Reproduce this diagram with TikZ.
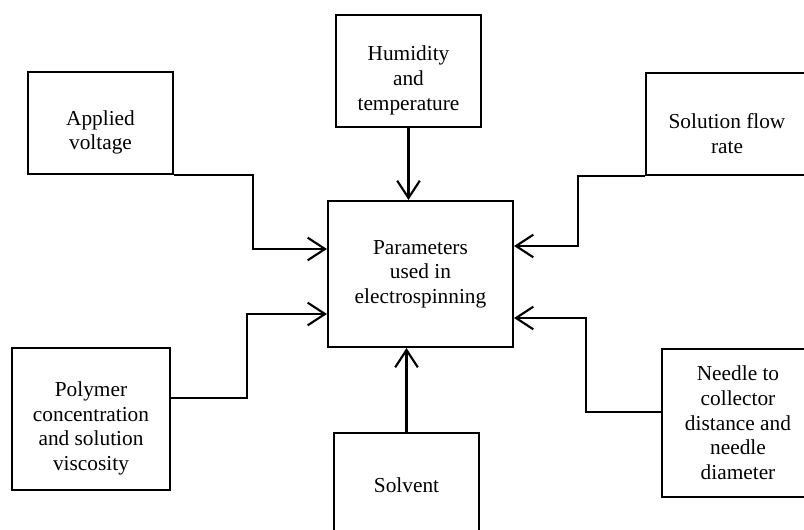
\documentclass[tikz,border=0pt]{standalone}
\usepackage{fontspec}
\setmainfont{Liberation Serif}
\usetikzlibrary{arrows.meta}

\begin{document}
\begin{tikzpicture}[x=0.75pt,y=-0.75pt,
    box/.style={draw=black,line width=1.6pt,inner sep=0pt},
    txt/.style={align=center,font=\fontsize{16}{18.5}\selectfont,text=black},
    arr/.style={line width=1.6pt,-{Straight Barb[length=13pt,width=17pt]}}]

      \clip (0,0) rectangle (804,530);

      \node[box,txt,minimum width=138.75pt,minimum height=109.5pt] (param) at (420.5,274){Parameters\\used in\\electrospinning};

      \node[box,minimum width=108.75pt,minimum height=76.5pt,label={[txt,name=voltlbl,yshift=-7pt]center:{Applied\\voltage}}] (volt) at (100.5,123){};
      \node[box,minimum width=108.75pt,minimum height=84pt,label={[txt,name=humidlbl,yshift=-7pt]center:{Humidity\\and\\temperature}}] (humid) at (408.5,71){};
      \node[box,minimum width=121.5pt,minimum height=76.5pt,label={[txt,name=flowlbl,yshift=-7pt]center:{Solution flow\\rate}}] (flow) at (727,124){};

      \node[box,minimum width=118.5pt,minimum height=106.5pt,label={[txt,name=polylbl,yshift=-7pt]center:{Polymer\\concentration\\and solution\\viscosity}}] (poly) at (91,419){};
      \node[box,txt,minimum width=108.75pt,minimum height=78pt] (solv) at (406.5,485){Solvent};
      \node[box,txt,minimum width=114pt,minimum height=111pt] (needle) at (738,423){Needle to\\collector\\distance and\\needle\\diameter};

      \draw[arr] (volt.south east) -- ++(79,0) |- ([yshift=18.75pt]param.west);
      \draw[arr] (humid.south) -- (humid.south |- param.north);
      \draw[arr] (flow.south west) -- ++(-67,0) |- ([yshift=21pt]param.east);
      \draw[arr] ([yshift=15.75pt]poly.east) -- ++(76,0) |- ([yshift=-30pt]param.west);
      \draw[arr] (solv.north) -- (solv.north |- param.south);
      \draw[arr] ([yshift=8.25pt]needle.west) -- ++(-75,0) |- ([yshift=-33pt]param.east);
    \end{tikzpicture}
\end{document}
